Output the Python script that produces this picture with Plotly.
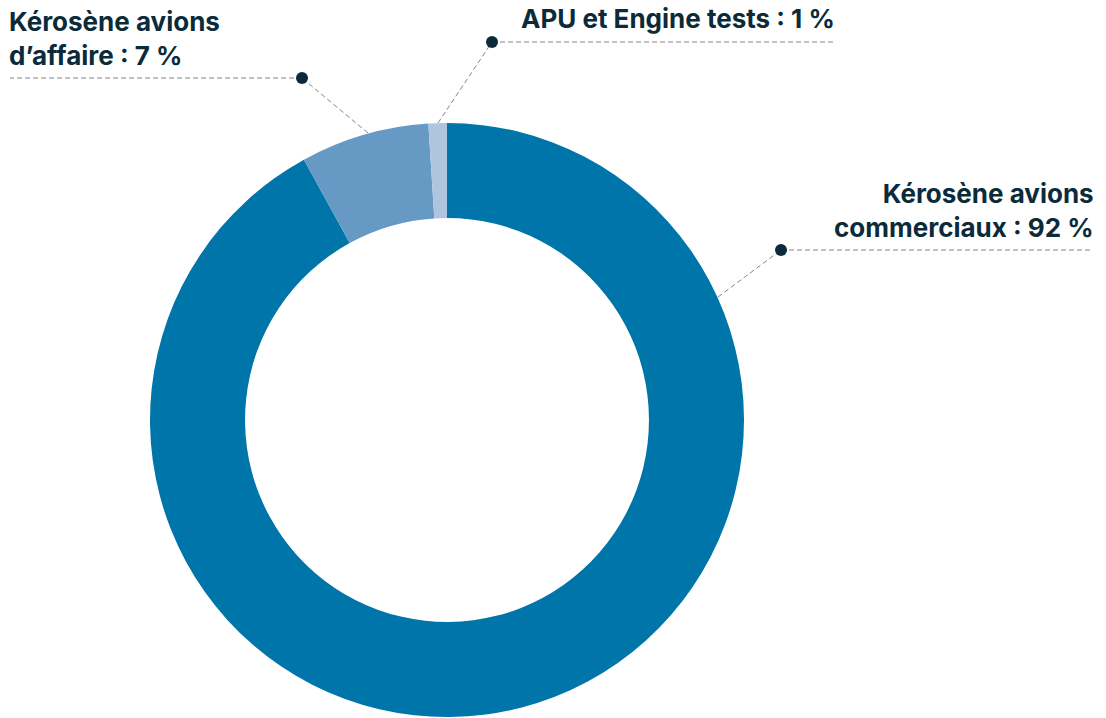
import plotly.graph_objects as go

W, H = 1106, 718
TEXT_COLOR = "#0b2b3b"
LEADER_COLOR = "#858585"
FONT = "Inter"

labels = ["Kérosène avions commerciaux", "Kérosène avions d’affaire", "APU et Engine tests"]
values = [92, 7, 1]
colors = ["#0075aa", "#6699c4", "#afc4de"]
label_texts = [
    "Kérosène avions<br>commerciaux : 92 %",
    "Kérosène avions<br>d’affaire : 7 %",
    "APU et Engine tests : 1 %",
]

# pie placement in pixels (center and radius)
CX, CY, R = 447, 420, 297


def px(x, y):
    return x / W, 1 - y / H


fig = go.Figure(go.Pie(
    labels=labels,
    values=values,
    marker=dict(colors=colors, line=dict(width=0)),
    hole=0.68,
    sort=False,
    direction="clockwise",
    rotation=0,
    textinfo="none",
    hoverinfo="label+percent",
    domain=dict(x=[(CX - R) / W, (CX + R) / W], y=[(H - CY - R) / H, (H - CY + R) / H]),
    showlegend=False,
))

# leader geometry: slice edge point, dot, end of dashed rule, text anchor
leaders = [
    dict(edge=(718, 297), dot=(781, 250), end=(1092, 250),
         text=(1096, 245), xanchor="right"),
    dict(edge=(368, 133), dot=(302, 78), end=(10, 78),
         text=(7, 73), xanchor="left"),
    dict(edge=(438, 123), dot=(492, 42), end=(833, 42),
         text=(837, 36), xanchor="right"),
]

shapes = []
annotations = []
for lead, txt in zip(leaders, label_texts):
    ex, ey = px(*lead["edge"])
    dx, dy = px(*lead["dot"])
    rx, ry = px(*lead["end"])
    dash = dict(color=LEADER_COLOR, width=1, dash="5px,3px")
    shapes.append(dict(type="line", xref="paper", yref="paper",
                       x0=ex, y0=ey, x1=dx, y1=dy, line=dash))
    shapes.append(dict(type="line", xref="paper", yref="paper",
                       x0=dx, y0=dy, x1=rx, y1=ry, line=dash))
    shapes.append(dict(type="circle", xref="paper", yref="paper",
                       xsizemode="pixel", ysizemode="pixel",
                       xanchor=dx, yanchor=dy, x0=-6, x1=6, y0=-6, y1=6,
                       fillcolor=TEXT_COLOR, line=dict(width=0)))
    tx, ty = px(*lead["text"])
    annotations.append(dict(text=f"<b>{txt}</b>", xref="paper", yref="paper",
                            x=tx, y=ty, xanchor=lead["xanchor"], yanchor="bottom",
                            align=lead["xanchor"], showarrow=False,
                            font=dict(family=FONT, size=26, color=TEXT_COLOR)))

fig.update_layout(
    width=W, height=H,
    margin=dict(l=0, r=0, t=0, b=0),
    paper_bgcolor="white",
    plot_bgcolor="white",
    shapes=shapes,
    annotations=annotations,
)

fig.write_html("out.html", config={"displayModeBar": False},
               post_script="document.body.style.margin='0';")
